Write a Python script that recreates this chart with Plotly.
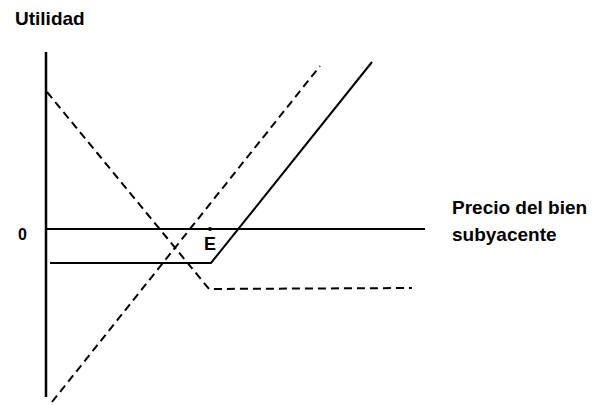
import plotly.graph_objects as go

# Data (price on x, profit on y; arbitrary units)
axis_x = [0, 0]
axis_y = [177, -168]

zero_x = [0, 379]
zero_y = [0, 0]

call_x = [4, 165, 326]          # solid kinked line (long call)
call_y = [-34, -34, 167]

put_x = [1, 163, 366]           # dashed descending then flat
put_y = [137, -60, -59]

under_x = [6, 274]              # dashed straight line (underlying)
under_y = [-173, 163]

strike_x = 164
font_family = "Arial, Liberation Sans, sans-serif"

fig = go.Figure()
fig.add_trace(go.Scatter(x=axis_x, y=axis_y, mode="lines",
                         line=dict(color="black", width=2.5)))
fig.add_trace(go.Scatter(x=zero_x, y=zero_y, mode="lines",
                         line=dict(color="black", width=2)))
fig.add_trace(go.Scatter(x=call_x, y=call_y, mode="lines",
                         line=dict(color="black", width=2)))
fig.add_trace(go.Scatter(x=put_x, y=put_y, mode="lines",
                         line=dict(color="black", width=2, dash="8px,5px")))
fig.add_trace(go.Scatter(x=under_x, y=under_y, mode="lines",
                         line=dict(color="black", width=2, dash="8px,5px")))
fig.add_trace(go.Scatter(x=[strike_x], y=[0], mode="markers",
                         marker=dict(color="black", size=4)))

fig.add_annotation(x=strike_x, y=-15, text="<b>E</b>", showarrow=False,
                   font=dict(family=font_family, size=18, color="black"))
fig.add_annotation(x=-24, y=-5, text="<b>0</b>", showarrow=False,
                   font=dict(family=font_family, size=16, color="black"))
fig.add_annotation(x=-33, y=211, text="<b>Utilidad</b>", showarrow=False, xanchor="left",
                   font=dict(family=font_family, size=19, color="black"))
fig.add_annotation(x=404, y=22, text="<b>Precio del bien</b>", showarrow=False, xanchor="left",
                   font=dict(family=font_family, size=19, color="black"))
fig.add_annotation(x=404, y=-5, text="<b>subyacente</b>", showarrow=False, xanchor="left",
                   font=dict(family=font_family, size=19, color="black"))

fig.update_layout(
    width=593, height=405,
    margin=dict(l=0, r=0, t=0, b=0),
    paper_bgcolor="white", plot_bgcolor="white",
    showlegend=False,
    xaxis=dict(range=[-46, 547], visible=False, fixedrange=True),
    yaxis=dict(range=[-176, 229], visible=False, fixedrange=True),
)

fig.write_html("out.html", config={"displayModeBar": False},
               post_script="document.body.style.margin='0px';document.body.style.overflow='hidden';")
